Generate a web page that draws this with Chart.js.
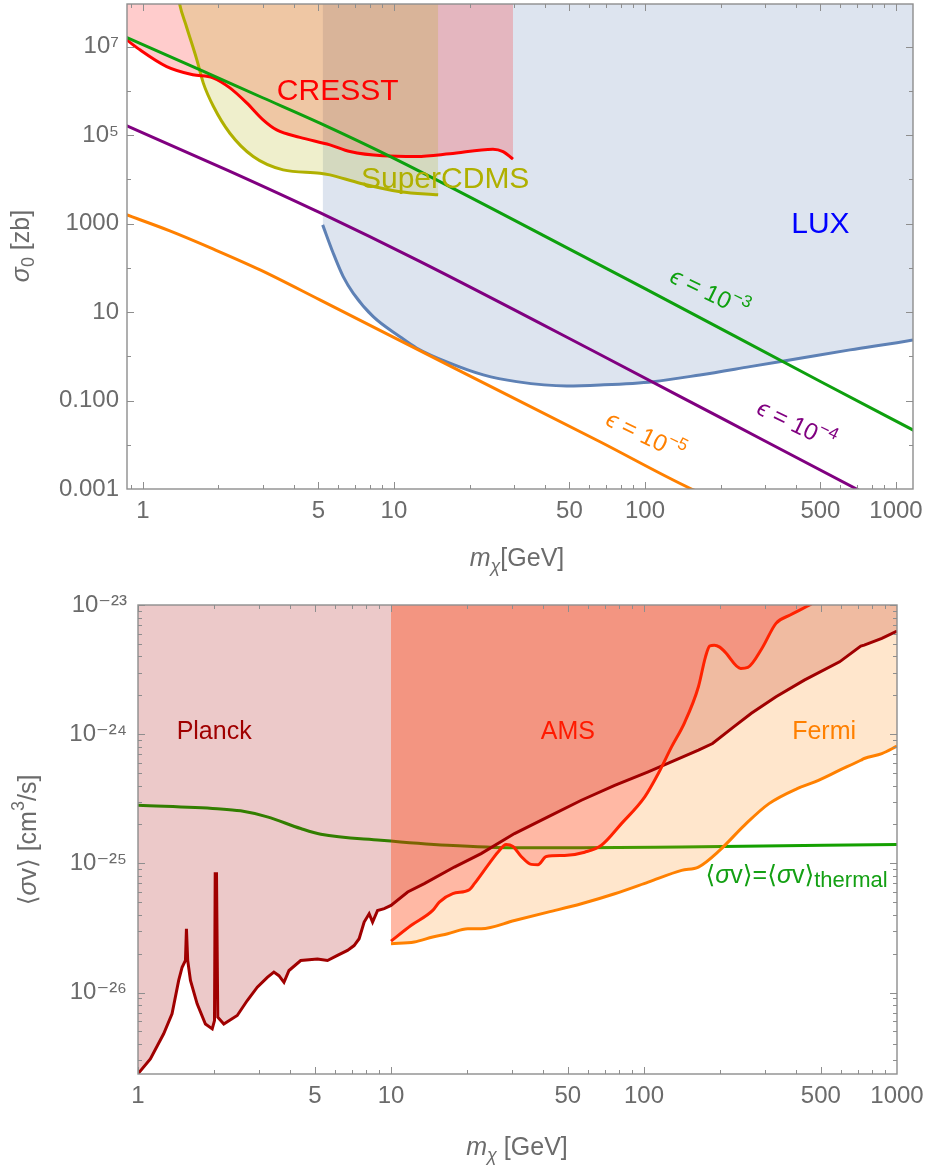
<!DOCTYPE html>
<html>
<head>
<meta charset="utf-8">
<script src="https://cdn.jsdelivr.net/npm/chart.js@4.4.1/dist/chart.umd.min.js"></script>
<style>
  html, body { margin: 0; padding: 0; background: #fff; }
  canvas { display: block; }
</style>
</head>
<body>
<canvas id="topChart" width="928" height="585" style="width:928px;height:585px"></canvas>
<canvas id="bottomChart" width="928" height="585" style="width:928px;height:585px"></canvas>
<script>
const FONT = "'Liberation Sans', 'DejaVu Sans', Arial, sans-serif";
const GRAY = '#6b6b6b';
const FRAME = '#8e8e8e';

// --- top panel: sigma_0 [zb] vs m_chi [GeV] ---
const cresstMass  = [0.85, 0.864, 0.973, 1.243, 1.58, 1.90, 2.22, 2.59, 3.01, 3.41, 4.22, 5.56, 6.68, 9.04, 12.3, 16.7, 24.8, 27.2, 29.8];
const cresstSigma = [1.6e7, 1.44e7, 8.55e6, 3.58e6, 2.33e6, 1.99e6, 1.18e6, 5.4e5, 2.23e5, 1.32e5, 8.97e4, 6.07e4, 4.28e4, 3.42e4, 3.3e4, 3.8e4, 4.85e4, 4.28e4, 2.88e4];

const cdmsMass  = [1.37, 1.40, 1.49, 1.64, 1.74, 1.91, 2.22, 2.75, 3.62, 5.07, 5.56, 7.32, 10.6, 15.0];
const cdmsSigma = [2e8, 9.3e7, 2.88e7, 5.08e6, 1.51e6, 4.46e5, 1.11e5, 3.3e4, 1.65e4, 1.39e4, 1.27e4, 8.24e3, 5.3e3, 4.49e3];

const luxMass  = [5.20, 5.73, 6.28, 6.89, 8.27, 10.6, 12.3, 16.7, 22.7, 30.8, 48.8, 66.2, 107.6, 165.6, 262, 415, 656, 1169, 1200];
const luxSigma = [940, 215, 63.5, 26.7, 7.9, 2.75, 1.55, 0.70, 0.38, 0.268, 0.214, 0.225, 0.268, 0.38, 0.585, 0.906, 1.40, 2.35, 2.42];

const eps3Mass  = [0.85, 1.69, 3.0, 5.07, 10, 60.4, 100, 500, 1200];
const eps3Sigma = [1.69e7, 3.0e6, 7.05e5, 1.88e5, 3.0e4, 152, 34, 0.27, 0.02];

const eps4Mass  = [0.85, 2.2, 5.07, 12.5, 66.2, 200, 706, 800];
const eps4Sigma = [1.69e5, 1.57e4, 1775, 146, 1.10, 0.041, 9.6e-4, 6.6e-4];

const eps5Mass  = [0.85, 1.28, 1.90, 2.93, 5.07, 16.7, 66.2, 151, 170];
const eps5Sigma = [1630, 687, 269, 90.2, 18.9, 0.61, 0.0117, 1.04e-3, 7.8e-4];

const topXTicks  = [1, 5, 10, 50, 100, 500, 1000];
const topXMinor  = [0.9, 2, 3, 4, 6, 7, 8, 9, 20, 30, 40, 60, 70, 80, 90, 200, 300, 400, 600, 700, 800, 900];
const topYTicks  = [1e7, 1e5, 1e3, 10, 0.1, 0.001];
const topYLabels = ['10⁷', '10⁵', '1000', '10', '0.100', '0.001'];
const topYMinor  = [1e6, 1e4, 100, 1, 0.01];

// --- bottom panel: <sigma v> [cm^3/s] vs m_chi [GeV] ---
const planckMass = [1.0, 1.119, 1.263, 1.363, 1.448, 1.494, 1.540, 1.554, 1.572, 1.612, 1.713, 1.847, 1.965, 2.006, 2.019, 2.043, 2.067, 2.183, 2.467, 2.703, 2.961, 3.244, 3.444, 3.606, 3.775, 3.952, 4.396, 5.120, 5.610, 6.143, 6.731, 7.147, 7.482, 7.831, 8.197, 8.456, 8.849, 9.400, 10.0, 11.64, 13.54, 17.80, 22.71, 30.77, 41.73, 56.55, 76.6, 103.9, 126.2, 164.1, 186.6, 226.2, 265.7, 332.5, 430.1, 593, 719, 742, 871, 1000];
const planckSv   = [2.35e-27, 3.06e-27, 4.79e-27, 6.84e-27, 1.24e-26, 1.57e-26, 1.77e-26, 3.12e-26, 1.77e-26, 1.24e-26, 8.17e-27, 5.71e-27, 5.23e-27, 6.07e-27, 8.32e-26, 8.32e-26, 6.44e-27, 5.71e-27, 6.64e-27, 8.67e-27, 1.10e-26, 1.31e-26, 1.44e-26, 1.35e-26, 1.20e-26, 1.48e-26, 1.77e-26, 1.82e-26, 1.77e-26, 1.94e-26, 2.12e-26, 2.31e-26, 2.61e-26, 3.51e-26, 4.07e-26, 3.51e-26, 4.32e-26, 4.46e-26, 4.72e-26, 6.0e-26, 6.97e-26, 9.36e-26, 1.19e-25, 1.70e-25, 2.29e-25, 3.08e-25, 4.02e-25, 5.11e-25, 6.01e-25, 7.52e-25, 8.47e-25, 1.14e-24, 1.45e-24, 1.95e-24, 2.62e-24, 3.63e-24, 4.81e-24, 4.89e-24, 5.52e-24, 6.28e-24];

const amsMass = [10, 11.99, 14.62, 15.52, 17.54, 20.40, 21.36, 24.14, 26.45, 28.52, 30.33, 32.71, 35.84, 38.09, 41.09, 48.56, 58.30, 67.87, 81.44, 100.7, 113.9, 128.5, 144.7, 164.1, 175.0, 181.8, 189.6, 199.2, 208.8, 241.2, 257.3, 292.4, 332.5, 378.2, 451.3, 560];
const amsSv   = [2.50e-26, 3.30e-26, 4.32e-26, 5.01e-26, 5.82e-26, 6.25e-26, 6.96e-26, 9.64e-26, 1.22e-25, 1.40e-25, 1.35e-25, 1.13e-25, 9.82e-26, 9.77e-26, 1.13e-25, 1.15e-25, 1.22e-25, 1.38e-25, 2.03e-25, 3.27e-25, 4.96e-25, 7.97e-25, 1.23e-24, 2.33e-24, 3.97e-24, 4.81e-24, 4.89e-24, 4.72e-24, 4.34e-24, 3.23e-24, 3.29e-24, 4.61e-24, 7.21e-24, 8.36e-24, 1.0e-23, 1.3e-23];

const fermiMass = [10, 12.36, 14.62, 16.76, 20.12, 22.71, 30.77, 41.73, 56.55, 76.6, 103.9, 140.8, 164.1, 199.0, 249.2, 311.9, 403.2, 473.3, 593, 719, 742, 871, 1000];
const fermiSv   = [2.39e-26, 2.46e-26, 2.69e-26, 2.85e-26, 3.12e-26, 3.12e-26, 3.61e-26, 4.19e-26, 4.87e-26, 5.82e-26, 7.16e-26, 8.83e-26, 9.36e-26, 1.26e-25, 1.97e-25, 2.90e-25, 3.79e-25, 4.27e-25, 5.26e-25, 6.28e-25, 6.48e-25, 7.08e-25, 8.07e-25];

const thermalMass = [1, 2.056, 2.543, 3.244, 4.396, 5.278, 9.12, 16.76, 30.77, 56.55, 140.8, 1000];
const thermalSv   = [2.82e-25, 2.65e-25, 2.55e-25, 2.29e-25, 1.86e-25, 1.68e-25, 1.51e-25, 1.38e-25, 1.32e-25, 1.32e-25, 1.34e-25, 1.40e-25];

const botXTicks  = [1, 5, 10, 50, 100, 500, 1000];
const botXMinor  = [2, 3, 4, 6, 7, 8, 9, 20, 30, 40, 60, 70, 80, 90, 200, 300, 400, 600, 700, 800, 900];
const botYTicks  = [1e-23, 1e-24, 1e-25, 1e-26];
const botYLabels = ['10⁻²³', '10⁻²⁴', '10⁻²⁵', '10⁻²⁶'];
const botYMinor  = [];
[-24, -25, -26, -27].forEach(e => { for (let k = 2; k <= 9; k++) botYMinor.push(k * Math.pow(10, e)); });

// --- helpers ---
const pts = (xs, ys) => xs.map((x, i) => ({ x: x, y: ys[i] }));

function lineSet(xs, ys, color, smooth) {
    return {
        data: pts(xs, ys), borderColor: color, borderWidth: 3, pointRadius: 0, fill: false,
        cubicInterpolationMode: smooth ? 'monotone' : 'default', tension: 0
    };
}
function fillSet(xs, ys, color, smooth) {
    return {
        data: pts(xs, ys), borderColor: 'rgba(0,0,0,0)', borderWidth: 0, pointRadius: 0,
        fill: 'end', backgroundColor: color,
        cubicInterpolationMode: smooth ? 'monotone' : 'default', tension: 0
    };
}

function fontFor(p, size) {
    return (p.it ? 'italic ' : '') + Math.round(size * (p.s || 1)) + 'px ' + FONT;
}
function drawParts(ctx, parts, x, y, o) {
    ctx.save();
    ctx.translate(x, y);
    if (o.angle) ctx.rotate(o.angle * Math.PI / 180);
    ctx.fillStyle = o.color;
    ctx.textBaseline = 'middle';
    ctx.textAlign = 'left';
    let total = 0;
    const widths = parts.map(p => { ctx.font = fontFor(p, o.size); const w = ctx.measureText(p.t).width; total += w; return w; });
    let cx = o.align === 'left' ? 0 : -total / 2;
    parts.forEach((p, i) => {
        ctx.font = fontFor(p, o.size);
        ctx.fillText(p.t, cx, (p.dy || 0) * o.size);
        cx += widths[i];
    });
    ctx.restore();
}

function frameTicks(xMajor, xMinor, yMajor, yMinor) {
    return {
        id: 'frameTicks',
        afterDatasetsDraw(chart) {
            const { ctx, chartArea: a } = chart;
            const sx = chart.scales.x, sy = chart.scales.y;
            ctx.save();
            ctx.strokeStyle = FRAME;
            ctx.lineWidth = 1;
            ctx.beginPath();
            const xt = (vals, len) => vals.forEach(v => {
                const p = Math.round(sx.getPixelForValue(v)) + 0.5;
                if (p < a.left || p > a.right) return;
                ctx.moveTo(p, a.bottom); ctx.lineTo(p, a.bottom - len);
                ctx.moveTo(p, a.top); ctx.lineTo(p, a.top + len);
            });
            const yt = (vals, len) => vals.forEach(v => {
                const p = Math.round(sy.getPixelForValue(v)) + 0.5;
                if (p < a.top || p > a.bottom) return;
                ctx.moveTo(a.left, p); ctx.lineTo(a.left + len, p);
                ctx.moveTo(a.right, p); ctx.lineTo(a.right - len, p);
            });
            xt(xMajor, 7); xt(xMinor, 4);
            yt(yMajor, 7); yt(yMinor, 4);
            ctx.stroke();
            ctx.lineWidth = 1.4;
            ctx.strokeRect(a.left, a.top, a.right - a.left, a.bottom - a.top);
            ctx.restore();
        }
    };
}

function texts(items, titles) {
    return {
        id: 'texts',
        afterDraw(chart) {
            const ctx = chart.ctx, sx = chart.scales.x, sy = chart.scales.y;
            items.forEach(it => drawParts(ctx, it.parts, sx.getPixelForValue(it.m), sy.getPixelForValue(it.v), it));
            titles.forEach(t => drawParts(ctx, t.parts, t.px, t.py, t));
        }
    };
}

function axes(xMin, xMax, xTicks, yMin, yMax, yTicks, yLabels, yWidth, yPad) {
    return {
        x: {
            type: 'logarithmic', min: xMin, max: xMax,
            grid: { display: false, drawTicks: false }, border: { display: false },
            ticks: { font: { family: FONT, size: 24 }, color: GRAY, padding: 8, maxRotation: 0, autoSkip: false,
                     callback: v => String(v) },
            afterBuildTicks: s => { s.ticks = xTicks.map(v => ({ value: v })); },
            afterFit: s => { s.height = 96; s.paddingLeft = 0; s.paddingRight = 0; }
        },
        y: {
            type: 'logarithmic', min: yMin, max: yMax,
            grid: { display: false, drawTicks: false }, border: { display: false },
            ticks: { font: { family: FONT, size: 24 }, color: GRAY, padding: yPad, autoSkip: false,
                     callback: (v, i) => yLabels[i] },
            afterBuildTicks: s => { s.ticks = yTicks.map(v => ({ value: v })); },
            afterFit: s => { s.width = yWidth; s.paddingTop = 0; s.paddingBottom = 0; }
        }
    };
}

const SUP = { s: 0.72, dy: -0.38 };
const SUB = { s: 0.72, dy: 0.3 };

// --- top chart ---
new Chart(document.getElementById('topChart'), {
    type: 'line',
    data: {
        datasets: [
            lineSet(eps3Mass, eps3Sigma, '#0ea00e', true),
            lineSet(eps4Mass, eps4Sigma, '#800080', true),
            lineSet(eps5Mass, eps5Sigma, '#ff8000', true),
            lineSet(cresstMass, cresstSigma, '#ff0000', true),
            lineSet(cdmsMass, cdmsSigma, '#b0b000', true),
            lineSet(luxMass, luxSigma, '#5e81b5', true),
            fillSet(cdmsMass, cdmsSigma, 'rgba(175,175,0,0.2)', true),
            fillSet(cresstMass, cresstSigma, 'rgba(255,0,0,0.2)', true),
            fillSet(luxMass, luxSigma, 'rgba(94,129,181,0.21)', true)
        ]
    },
    options: {
        responsive: false, animation: false, devicePixelRatio: 1,
        layout: { padding: { top: 4, right: 15, left: 0, bottom: 0 } },
        plugins: { legend: { display: false }, tooltip: { enabled: false } },
        scales: axes(0.864, 1169, topXTicks, 0.001, 9.3e7, topYTicks, topYLabels, 127, 8)
    },
    plugins: [
        frameTicks(topXTicks, topXMinor, topYTicks, topYMinor),
        texts([
            { parts: [{ t: 'CRESST' }], m: 5.97, v: 9.6e5, size: 30, color: '#ff0000' },
            { parts: [{ t: 'SuperCDMS' }], m: 16.0, v: 9.8e3, size: 30, color: '#b0b000' },
            { parts: [{ t: 'LUX' }], m: 500, v: 940, size: 30, color: '#0000ff' },
            { parts: [{ t: 'ϵ', it: true }, { t: ' = 10' }, Object.assign({ t: '−3' }, SUP)], m: 180, v: 25.8, size: 24, color: '#0ea00e', angle: 26 },
            { parts: [{ t: 'ϵ', it: true }, { t: ' = 10' }, Object.assign({ t: '−4' }, SUP)], m: 399, v: 0.0269, size: 24, color: '#800080', angle: 26 },
            { parts: [{ t: 'ϵ', it: true }, { t: ' = 10' }, Object.assign({ t: '−5' }, SUP)], m: 100, v: 0.015, size: 24, color: '#ff8000', angle: 26 }
        ], [
            { parts: [{ t: 'm', it: true }, Object.assign({ t: 'χ', it: true }, SUB), { t: '[GeV]' }], px: 517, py: 559, size: 25, color: GRAY },
            { parts: [{ t: 'σ', it: true }, Object.assign({ t: '0' }, SUB), { t: ' [zb]' }], px: 22, py: 246, size: 25, color: GRAY, angle: -90 }
        ])
    ]
});

// --- bottom chart ---
new Chart(document.getElementById('bottomChart'), {
    type: 'line',
    data: {
        datasets: [
            lineSet(fermiMass, fermiSv, '#ff8000', true),
            lineSet(amsMass, amsSv, '#ff2200', true),
            lineSet(planckMass, planckSv, '#a00000', false),
            fillSet(amsMass, amsSv, 'rgba(255,0,0,0.2)', true),
            fillSet(fermiMass, fermiSv, 'rgba(255,128,0,0.2)', true),
            fillSet(planckMass, planckSv, 'rgba(165,0,0,0.21)', false),
            lineSet(thermalMass, thermalSv, '#14a000', true)
        ]
    },
    options: {
        responsive: false, animation: false, devicePixelRatio: 1,
        layout: { padding: { top: 20, right: 31, left: 0, bottom: 0 } },
        plugins: { legend: { display: false }, tooltip: { enabled: false } },
        scales: axes(1, 1000, botXTicks, 2.34e-27, 1e-23, botYTicks, botYLabels, 138, 11)
    },
    plugins: [
        frameTicks(botXTicks, botXMinor, botYTicks, botYMinor),
        texts([
            { parts: [{ t: 'Planck' }], m: 2.0, v: 1.04e-24, size: 25, color: '#a00000' },
            { parts: [{ t: 'AMS' }], m: 50, v: 1.04e-24, size: 25, color: '#ff1a00' },
            { parts: [{ t: 'Fermi' }], m: 515, v: 1.04e-24, size: 25, color: '#ff8000' },
            { parts: [{ t: '⟨' }, { t: 'σ', it: true }, { t: 'v⟩=⟨' }, { t: 'σ', it: true }, { t: 'v⟩' }, { t: 'thermal', s: 0.88, dy: 0.2 }],
              m: 175, v: 7.94e-26, size: 25, color: '#14a014', align: 'left' }
        ], [
            { parts: [{ t: 'm', it: true }, Object.assign({ t: 'χ', it: true }, SUB), { t: ' [GeV]' }], px: 517, py: 563, size: 25, color: GRAY },
            { parts: [{ t: '⟨' }, { t: 'σ', it: true }, { t: 'v⟩ [cm' }, Object.assign({ t: '3' }, SUP), { t: '/s]' }], px: 29, py: 255, size: 25, color: GRAY, angle: -90 }
        ])
    ]
});
</script>
</body>
</html>
